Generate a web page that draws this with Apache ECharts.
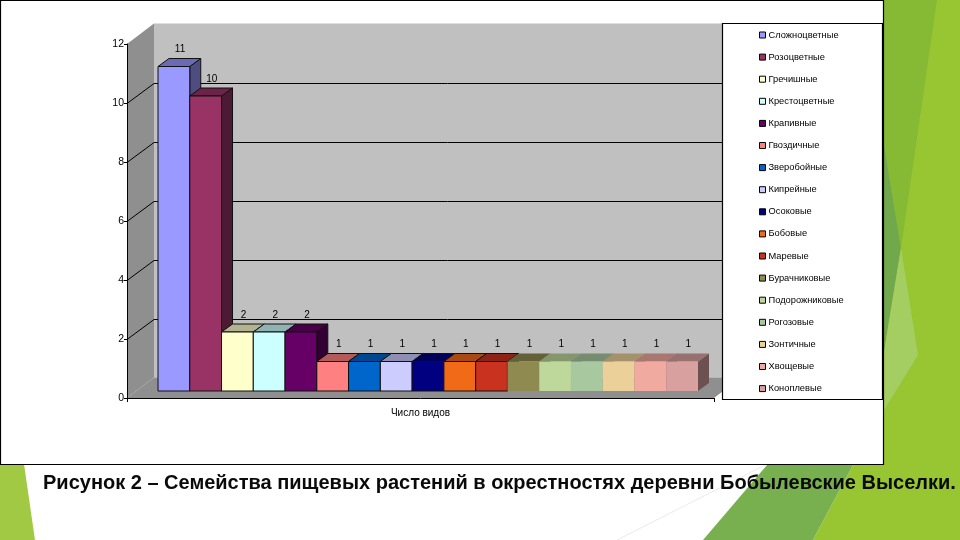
<!DOCTYPE html>
<html><head><meta charset="utf-8">
<style>html,body{margin:0;padding:0;background:#fff}#c{width:960px;height:540px}</style>
<script src="https://cdn.jsdelivr.net/npm/echarts@6/dist/echarts.min.js"></script>
</head><body><div id="c"></div>
<script>
const families = ['Сложноцветные','Розоцветные','Гречишные','Крестоцветные','Крапивные','Гвоздичные','Зверобойные','Кипрейные','Осоковые','Бобовые','Маревые','Бурачниковые','Подорожниковые','Рогозовые','Зонтичные','Хвощевые','Коноплевые'];
const speciesCount = [11,10,2,2,2,1,1,1,1,1,1,1,1,1,1,1,1];
const barColors = ['#9999FF','#993366','#FFFFCC','#CCFFFF','#660066','#FF8080','#0066CC','#CCCCFF','#000080','#F06A18','#C8321E','#8F8A50','#BDD89A','#A8C8A0','#EBD09A','#F0AAA0','#D9A0A0'];
const category = ['Число видов'];
const yTicks = [0,2,4,6,8,10,12];
const caption = 'Рисунок 2 – Семейства пищевых растений в окрестностях деревни Бобылевские Выселки.';

const WALL_DX = 27, WALL_DY = -20.5, BAR_DX = 11, BAR_DY = -8, BAR_LIFT = 7, GAP_LEFT = 31, BARS_W = 540;

function shade(hex, k){
  const n = parseInt(hex.slice(1),16);
  const c = [n>>16&255,n>>8&255,n&255].map(v=>Math.round(v*k));
  return 'rgb('+c.join(',')+')';
}
function poly(points, fill, stroke, z2){
  return {type:'polygon',z2:z2||0,shape:{points},style:{fill,stroke:stroke||null,lineWidth:stroke?1:0}};
}
function wallsItem(params, api){
  const children = [];
  const o = api.coord([0,0]), band = api.size([1,0])[0];
  const x0 = o[0]-band/2, x1 = o[0]+band/2, y0 = o[1], yTop = api.coord([0,12])[1];
  const bx0 = x0+WALL_DX, bx1 = x1+WALL_DX;
  children.push(poly([[bx0,yTop+WALL_DY],[bx1,yTop+WALL_DY],[bx1,y0+WALL_DY],[bx0,y0+WALL_DY]],'#C0C0C0'));
  children.push(poly([[x0,yTop],[bx0,yTop+WALL_DY],[bx0,y0+WALL_DY],[x0,y0]],'#8F8F8F'));
  children.push(poly([[x0,y0],[x1,y0],[bx1,y0+WALL_DY],[bx0,y0+WALL_DY]],'#8F8F8F'));
  yTicks.filter(t=>t>0&&t<12).forEach(t=>{
    const y = Math.round(api.coord([0,t])[1])+0.5, yb = Math.round(y+WALL_DY)+0.5;
    children.push({type:'polyline',z2:1,shape:{points:[[x0,y],[bx0,yb],[bx1,yb]]},style:{fill:null,stroke:'#000',lineWidth:1}});
  });
  return {type:'group',children};
}
function barItem(idx){
  return function(params, api){
    const v = api.value(1), c = api.coord([0,v]), base = api.coord([0,0]);
    const band = api.size([1,0])[0], w = BARS_W/families.length;
    const l = c[0]-band/2+GAP_LEFT+idx*w, r = l+w, t = c[1]-BAR_LIFT, b = base[1]-BAR_LIFT;
    const col = barColors[idx], edge = idx<11?'#111':null;
    return {type:'group',children:[
      poly([[r,t],[r+BAR_DX,t+BAR_DY],[r+BAR_DX,b+BAR_DY],[r,b]],shade(col,.5),edge),
      poly([[l,t],[l+BAR_DX,t+BAR_DY],[r+BAR_DX,t+BAR_DY],[r,t]],shade(col,.7),edge),
      poly([[l,t],[r,t],[r,b],[l,b]],col,edge),
      {type:'text',z2:5,style:{text:String(v),x:l+22,y:t-17,align:'center',verticalAlign:'middle',fontSize:10,fontFamily:'Liberation Sans',fill:'#000'}}
    ]};
  };
}
const bgShapes = [
  {pts:[[884,0],[960,0],[960,540],[813,540],[853,465],[884,465]],fill:'#97C632'},
  {pts:[[884,0],[937,0],[901,248],[884,145]],fill:'#86B934'},
  {pts:[[884,145],[901,248],[884,352]],fill:'#72A84C'},
  {pts:[[901,248],[918,355],[884,410],[884,352]],fill:'#A5CE62'},
  {pts:[[767,465],[853,465],[813,540],[703,540]],fill:'#79B04F'},
  {pts:[[0,464],[24,464],[35,540],[0,540]],fill:'#A2C943'}
];
const graphicEls = bgShapes.map(s=>({type:'polygon',z:0,shape:{points:s.pts},style:{fill:s.fill}}));
graphicEls.push({type:'line',z:0,shape:{x1:617,y1:540,x2:765,y2:465},style:{stroke:'#EAEAEA',lineWidth:1}});
graphicEls.push({type:'rect',z:1,shape:{x:0.5,y:0.5,width:883,height:464},style:{fill:'#fff',stroke:'#000',lineWidth:1.2}});
graphicEls.push({type:'rect',z:3,shape:{x:722.5,y:23.5,width:160,height:376},style:{fill:'#fff',stroke:'#000',lineWidth:1.2}});

const chart = echarts.init(document.getElementById('c'),null,{renderer:'canvas'});
chart.setOption({
  animation:false,
  backgroundColor:'#fff',
  textStyle:{fontFamily:'Liberation Sans'},
  title:{text:caption,left:43,top:473,padding:0,itemGap:0,z:8,textStyle:{fontFamily:'Liberation Sans',fontWeight:'bold',fontSize:20,color:'#0a0a0a'}},
  graphic:{elements:graphicEls},
  grid:{left:127,top:44,width:587,height:354},
  xAxis:{type:'category',data:category,z:3,
    axisLine:{lineStyle:{color:'#000',width:1}},
    axisTick:{show:true,length:4,alignWithLabel:false,lineStyle:{color:'#000'}},
    axisLabel:{fontSize:10,color:'#000',margin:10,fontFamily:'Liberation Sans'}},
  yAxis:{type:'value',min:0,max:12,interval:2,z:3,
    axisLine:{show:true,lineStyle:{color:'#000',width:1}},
    axisTick:{show:true,length:3,lineStyle:{color:'#000'}},
    splitLine:{show:false},
    axisLabel:{fontSize:10.5,color:'#000',margin:3,fontFamily:'Liberation Sans'}},
  legend:{orient:'vertical',left:759,top:30,icon:'rect',itemWidth:6,itemHeight:6,itemGap:12.1,padding:0,z:4,selectedMode:false,
    data:families,
    itemStyle:{borderColor:'#000',borderWidth:1},
    textStyle:{fontSize:9.3,lineHeight:10,color:'#000',fontFamily:'Liberation Sans',padding:[0,0,0,-2]}},
  series:[
    {type:'custom',name:'walls',z:1,silent:true,coordinateSystem:'cartesian2d',data:[[0,0]],encode:{x:0,y:1},renderItem:wallsItem}
  ].concat(families.map((f,i)=>({
    type:'custom',name:f,z:2,coordinateSystem:'cartesian2d',
    itemStyle:{color:barColors[i]},
    data:[[0,speciesCount[i]]],encode:{x:0,y:1},renderItem:barItem(i)
  })))
});
</script></body></html>
